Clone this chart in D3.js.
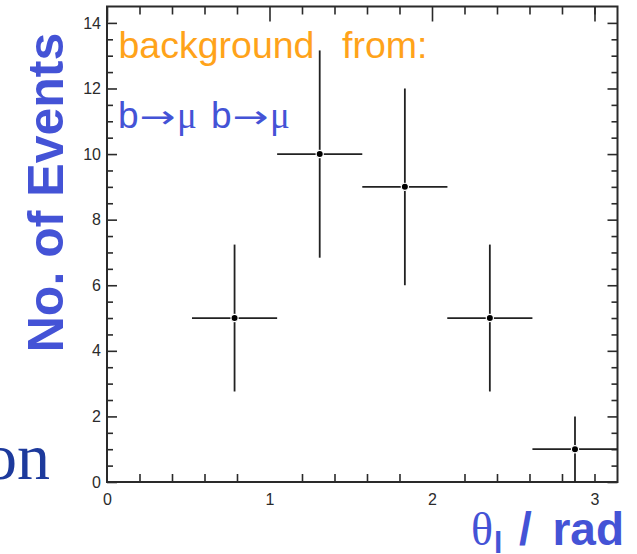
<!DOCTYPE html>
<html>
<head>
<meta charset="utf-8">
<script src="https://cdn.jsdelivr.net/npm/d3@7"></script>
<style>
  html, body { margin: 0; padding: 0; background: #fff; }
  svg { display: block; }
</style>
</head>
<body>
<svg id="chart"></svg>
<script>
// data
const binCenters = [0.785, 1.309, 1.833, 2.356, 2.880];
const binHalfWidths = [0.262, 0.262, 0.262, 0.262, 0.262];
const counts = [5, 10, 9, 5, 1];
const countErrors = [2.24, 3.16, 3.0, 2.24, 1.0];

const xMajorTicks = [0, 1, 2, 3];
const xMinorTicks = [0.2, 0.4, 0.6, 0.8, 1.2, 1.4, 1.6, 1.8, 2.2, 2.4, 2.6, 2.8, 3.0];
const yMajorTicks = [0, 2, 4, 6, 8, 10, 12, 14];
const yMinorTicks = d3.range(0.5, 14.5, 0.5).filter(v => v % 2 !== 0);

const W = 637, H = 554;
const frame = { left: 107, right: 617.5, top: 6.5, bottom: 482 };

const svg = d3.select("#chart").attr("width", W).attr("height", H);

const x = d3.scaleLinear().domain([0, Math.PI]).range([frame.left, frame.right]);
const y = d3.scaleLinear().domain([0, 14.5]).range([frame.bottom, frame.top]);

const axisColor = "#2a2a2a";
const labelFont = "'Liberation Sans', Arial, sans-serif";
const serifFont = "'Liberation Serif', 'DejaVu Serif', serif";

// clip for the x tick labels (cut off in the original)
svg.append("clipPath").attr("id", "xlabClip")
  .append("rect").attr("x", 0).attr("y", 0).attr("width", W).attr("height", 503);

function styleAxis(g) {
  g.select(".domain").remove();
  g.selectAll(".tick line").attr("stroke", axisColor).attr("stroke-width", 1.6);
  g.selectAll(".tick text")
    .attr("fill", "#2b2b2b")
    .attr("font-family", labelFont)
    .attr("font-size", 16)
    .style("font-size", "16px");
}

// bottom axis
svg.append("g")
  .attr("transform", `translate(0,${frame.bottom})`)
  .attr("clip-path", "url(#xlabClip)")
  .call(d3.axisBottom(x).tickValues(xMajorTicks).tickSize(-15).tickPadding(12).tickFormat(d3.format("d")))
  .call(styleAxis);
svg.append("g")
  .attr("transform", `translate(0,${frame.bottom})`)
  .call(d3.axisBottom(x).tickValues(xMinorTicks).tickSize(-8).tickFormat(""))
  .call(styleAxis);

// top axis (mirrored ticks)
svg.append("g")
  .attr("transform", `translate(0,${frame.top})`)
  .call(d3.axisTop(x).tickValues(xMajorTicks).tickSize(-15).tickFormat(""))
  .call(styleAxis);
svg.append("g")
  .attr("transform", `translate(0,${frame.top})`)
  .call(d3.axisTop(x).tickValues(xMinorTicks).tickSize(-8).tickFormat(""))
  .call(styleAxis);

// left axis
svg.append("g")
  .attr("transform", `translate(${frame.left},0)`)
  .call(d3.axisLeft(y).tickValues(yMajorTicks).tickSize(-10).tickPadding(6).tickFormat(d3.format("d")))
  .call(styleAxis);
svg.append("g")
  .attr("transform", `translate(${frame.left},0)`)
  .call(d3.axisLeft(y).tickValues(yMinorTicks).tickSize(-6).tickFormat(""))
  .call(styleAxis);

// right axis
svg.append("g")
  .attr("transform", `translate(${frame.right},0)`)
  .call(d3.axisRight(y).tickValues(yMajorTicks).tickSize(-10).tickFormat(""))
  .call(styleAxis);
svg.append("g")
  .attr("transform", `translate(${frame.right},0)`)
  .call(d3.axisRight(y).tickValues(yMinorTicks).tickSize(-6).tickFormat(""))
  .call(styleAxis);

// frame
svg.append("rect")
  .attr("x", frame.left).attr("y", frame.top)
  .attr("width", frame.right - frame.left).attr("height", frame.bottom - frame.top)
  .attr("fill", "none").attr("stroke", axisColor).attr("stroke-width", 2);

// data points with error bars
const pts = binCenters.map((c, i) => ({ c, hw: binHalfWidths[i], n: counts[i], e: countErrors[i] }));

const pg = svg.append("g");
pg.selectAll(".hbar").data(pts).enter().append("line")
  .attr("x1", d => x(d.c - d.hw)).attr("x2", d => Math.min(x(d.c + d.hw), frame.right))
  .attr("y1", d => y(d.n)).attr("y2", d => y(d.n))
  .attr("stroke", "#222").attr("stroke-width", 1.8);
pg.selectAll(".vbar").data(pts).enter().append("line")
  .attr("x1", d => x(d.c)).attr("x2", d => x(d.c))
  .attr("y1", d => y(Math.max(d.n - d.e, 0))).attr("y2", d => y(d.n + d.e))
  .attr("stroke", "#222").attr("stroke-width", 1.8);
pg.selectAll(".dot").data(pts).enter().append("circle")
  .attr("cx", d => x(d.c)).attr("cy", d => y(d.n)).attr("r", 3.6)
  .attr("fill", "#000").attr("stroke", "#fff").attr("stroke-width", 1.2);

// annotations inside the plot
const orange = "#ffa31a";
svg.append("text")
  .attr("x", 118.5).attr("y", 58)
  .attr("fill", orange)
  .style("font-family", labelFont).style("font-size", "37.5px")
  .text("background");
svg.append("text")
  .attr("x", 342).attr("y", 58)
  .attr("fill", orange)
  .style("font-family", labelFont).style("font-size", "37.5px")
  .text("from:");

const blue = "#4453d6";
// "b→μ b→μ" pieces
const decayParts = [
  { t: "b", x: 118, kind: "sans" },
  { t: "→", x: 139.5, kind: "arrow" },
  { t: "μ", x: 177, kind: "serif" },
  { t: "b", x: 211, kind: "sans" },
  { t: "→", x: 232.5, kind: "arrow" },
  { t: "μ", x: 270, kind: "serif" }
];
svg.append("g").selectAll("text").data(decayParts).enter().append("text")
  .attr("x", d => d.x).attr("y", 128)
  .attr("fill", blue)
  .attr("textLength", d => d.kind === "arrow" ? 36 : null)
  .attr("lengthAdjust", d => d.kind === "arrow" ? "spacingAndGlyphs" : null)
  .style("font-family", d => d.kind === "serif" ? serifFont : d.kind === "arrow" ? "'DejaVu Sans'" : labelFont)
  .style("font-size", d => d.kind === "arrow" ? "32px" : "37px")
  .text(d => d.t);

// y axis title
svg.append("text")
  .attr("transform", "translate(63,192.5) rotate(-90)")
  .attr("text-anchor", "middle")
  .attr("fill", blue)
  .style("font-family", labelFont).style("font-size", "50px").style("font-weight", "bold")
  .text("No. of Events");

// x axis title
svg.append("text")
  .attr("x", 471).attr("y", 545)
  .attr("fill", blue)
  .style("font-family", serifFont).style("font-size", "46px")
  .text("θ");
svg.append("text")
  .attr("x", 494).attr("y", 553)
  .attr("fill", blue)
  .style("font-family", labelFont).style("font-size", "30px").style("font-weight", "bold")
  .text("l");
svg.append("text")
  .attr("x", 519).attr("y", 545)
  .attr("fill", blue)
  .style("font-family", labelFont).style("font-size", "46px").style("font-weight", "bold")
  .text("/");
svg.append("text")
  .attr("x", 624).attr("y", 545)
  .attr("text-anchor", "end")
  .attr("fill", blue)
  .style("font-family", labelFont).style("font-size", "46px").style("font-weight", "bold")
  .text("rad");

// fragment of slide text at the left edge
svg.append("text")
  .attr("x", -16).attr("y", 479)
  .attr("fill", "#1d3a9c")
  .style("font-family", serifFont).style("font-size", "66px")
  .text("on");
</script>
</body>
</html>
